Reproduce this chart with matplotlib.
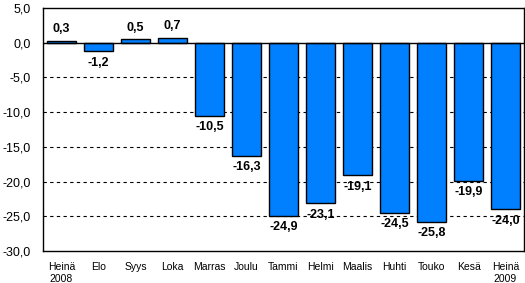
import numpy as np
import matplotlib.pyplot as plt

plt.rcParams['font.family'] = ['Liberation Sans', 'DejaVu Sans']

# Muutos (%) kuukausittain
kuukaudet = ["Heinä\n2008", "Elo", "Syys", "Loka", "Marras", "Joulu", "Tammi",
             "Helmi", "Maalis", "Huhti", "Touko", "Kesä", "Heinä\n2009"]
arvot = [0.3, -1.2, 0.5, 0.7, -10.5, -16.3, -24.9, -23.1, -19.1, -24.5, -25.8, -19.9, -24.0]
y_ticks = [5, 0, -5, -10, -15, -20, -25, -30]

fig = plt.figure(figsize=(5.25, 2.83), dpi=100)
ax = fig.add_axes([43 / 525, 1 - 251 / 283, 481 / 525, 243 / 283])

x = np.arange(len(arvot))
ax.bar(x, arvot, width=0.81, color='#0080FF', edgecolor='black', linewidth=1, zorder=3)

for yv in [-5, -10, -15, -20, -25]:
    ax.axhline(yv, color='black', linestyle=(0, (3, 3)), linewidth=0.8, zorder=1)
ax.axhline(0, color='black', linewidth=1, zorder=4)

for xi, v in zip(x, arvot):
    teksti = f"{v:.1f}".replace('.', ',')
    if v >= 0:
        ax.annotate(teksti, (xi, v), xytext=(0, 4), textcoords='offset points',
                    ha='center', va='bottom', fontsize=9, fontweight='bold', zorder=5)
    else:
        ax.annotate(teksti, (xi, v), xytext=(0, -4), textcoords='offset points',
                    ha='center', va='top', fontsize=9, fontweight='bold', zorder=5)

ax.set_xlim(-0.5, len(arvot) - 0.5)
ax.set_ylim(-30, 5)
ax.set_yticks(y_ticks)
ax.set_yticklabels([f"{t:.1f}".replace('.', ',') for t in y_ticks], fontsize=9)
ax.set_xticks(x)
ax.set_xticklabels(kuukaudet, fontsize=7.5)
ax.tick_params(axis='x', length=0, pad=8)
ax.tick_params(axis='y', length=0, pad=8.5)
for s in ax.spines.values():
    s.set_color('black')
    s.set_linewidth(1)

fig.savefig('out.png', dpi=100)
